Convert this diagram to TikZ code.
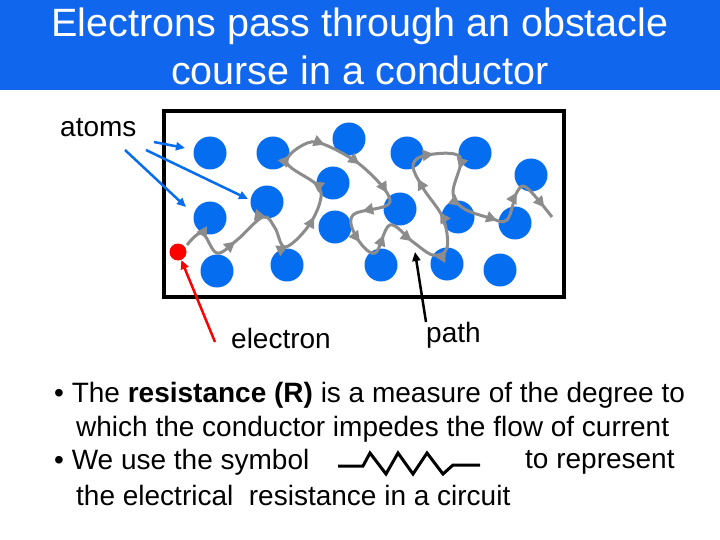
\documentclass[tikz,border=0pt]{standalone}
\usepackage{fontspec}
\setmainfont{Liberation Sans}
\usetikzlibrary{decorations.markings,arrows.meta}
\definecolor{ttl}{RGB}{17,102,238}
\definecolor{atomc}{RGB}{5,110,240}
\begin{document}
\begin{tikzpicture}[x=1pt,y=-1pt,
  atom/.style={circle,fill=atomc,minimum size=33pt,inner sep=0pt},
  lbl/.style={font=\fontsize{28}{32}\selectfont,inner sep=0pt},
  pth/.style={draw=gray!90,line width=3pt,
    postaction={decorate,decoration={markings,
      mark=between positions 0.03 and 0.99 step 40pt with {\arrow{Triangle[length=11pt,width=11pt]}}}}},
  ptr/.style={line width=2.5pt,-{Triangle[length=9pt,width=8pt]}}]
\useasboundingbox (0,0) rectangle (720,540);
\fill[white] (0,0) rectangle (720,540);
\fill[ttl] (0,0) rectangle (720,90);
\node[text=white,align=center,font=\fontsize{39.5}{48}\selectfont] (title) at (360,46) {Electrons pass through an obstacle\\course in a conductor};
\draw[line width=4pt] (164,111) rectangle (564,297);
\foreach \n/\x/\y in {a1/210/153,a2/273/153,a3/349/139,a4/407/153,a5/475/153,a6/531/175,a7/333/183,a8/267/202,a9/210/218,a10/400/209,a11/458/217,a12/515/223,a13/335/227,a14/217/271,a15/287/265,a16/381/265,a17/447/264,a18/500/270}
  \node[atom] (\n) at (\x,\y) {};
\node[circle,fill=red,minimum size=17pt,inner sep=0pt] (el) at (178,252) {};
\draw[pth] plot[smooth,tension=0.6] coordinates {(187,245) (202,233) (217,253) (237,240) (263,217) (275,228) (285,247) (307,228) (320,202) (317,185) (287,163) (303,145) (323,144) (363,167) (390,202) (353,215) (357,238) (375,253) (390,225) (413,242) (433,255) (447,248) (443,218) (423,188) (413,165) (427,155) (460,157) (453,192) (463,208) (490,218) (507,220) (517,192) (527,188) (552,217)};
\node[lbl,anchor=west] (atoms) at (60,128) {atoms};
\coordinate (t1) at (185,148); \coordinate (t2) at (248,199); \coordinate (t3) at (186,207);
\draw[ptr,draw=atomc,fill=atomc] (154,142) -- (t1);
\draw[ptr,draw=atomc,fill=atomc] (146,150) -- (t2);
\draw[ptr,draw=atomc,fill=atomc] (125,150) -- (t3);
\node[lbl,anchor=west] (elec) at (231,338) {electron};
\node[lbl,anchor=west] (path) at (426,335) {path};
\draw[ptr,red] (215,342) -- (el);
\coordinate (pt) at (415,252);
\draw[ptr,black] (426,322) -- (pt);
\node[lbl,anchor=west] (b1) at (54,395) {\textbullet{} The \textbf{resistance (R)} is a measure of the degree to};
\node[lbl,anchor=west] (b2) at (76,429) {which the conductor impedes the flow of current};
\node[lbl,anchor=west] (b3) at (54,462) {\textbullet{} We use the symbol};
\node[lbl,anchor=west] (b3b) at (525,462) {to represent};
\node[lbl,anchor=west] (b4) at (76,495) {the electrical\ \ resistance in a circuit};
\draw[line width=3pt,line join=miter] (338,466) -- (363,466) -- (370,453) -- (386,474) -- (398,453) -- (413,474) -- (427,453) -- (443,474) -- (453,465) -- (480,465);
\end{tikzpicture}
\end{document}
